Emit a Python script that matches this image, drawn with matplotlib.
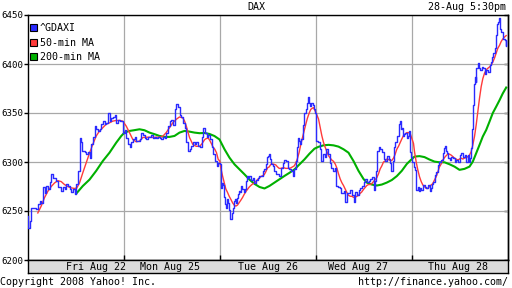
import matplotlib
matplotlib.use("Agg")
import matplotlib.pyplot as plt
from matplotlib.patches import Patch

# time axis: 0..480 units, one trading day = 96 units (Fri Aug 22 .. Thu Aug 28)
day_edges = [96, 192, 288, 384]
day_labels = ["Fri Aug 22", "Mon Aug 25", "Tue Aug 26", "Wed Aug 27", "Thu Aug 28"]
day_label_pos = [68, 142, 240, 331, 431]

y_ticks = [6200, 6250, 6300, 6350, 6400, 6450]

# ^GDAXI (intraday quotes)
gdaxi_t = [0, 0.7, 2, 3.7, 8.7, 10.3, 12, 13.7, 15.3, 17, 18.7, 20.3, 22, 23.7, 25.3, 27, 28.7, 30.3,
           32, 33.7, 35.3, 37, 38.7, 40.3, 42, 43.7, 45.3, 47, 48.7, 50.3, 52, 53.7, 54.7, 57, 58.7,
           60.3, 62, 63.7, 65.3, 67, 68.7, 70.3, 72, 73.7, 75.3, 77, 78.7, 80.3, 82, 83.7, 85.3, 87,
           88.7, 90.3, 92, 93.7, 95.3, 97, 98.7, 100.3, 102, 103.7, 105.3, 107, 108.7, 110.3, 112,
           113.7, 115.3, 117, 118.7, 120.3, 122, 123.7, 125.3, 127, 128.7, 130.3, 132, 133.7, 135.3,
           137, 138.7, 140.3, 142, 143.7, 145.3, 147, 148.7, 150.3, 152, 153.7, 155.3, 157, 158.7,
           160.3, 162, 163.7, 165.3, 167, 168.7, 170.3, 172, 174, 175.7, 177.3, 179, 180.7, 182.3,
           184, 185.7, 187.3, 189, 190.7, 192.3, 193, 194, 195, 196, 196.7, 197.7, 198.3, 199.3, 200,
           201, 202, 202.7, 204, 205, 206, 206.7, 207.7, 208.3, 209.3, 210, 211, 212, 213.3, 214.3,
           216, 217.3, 218.3, 219.3, 220.7, 221.7, 223.3, 225, 226.7, 228.3, 230, 231.7, 233.3, 235,
           236.7, 238.3, 239.3, 240.7, 241.7, 242.7, 243.3, 245, 246.7, 248.3, 250, 251.7, 253.3,
           255, 256.7, 258.3, 260, 261.7, 263.3, 265, 266.7, 268.3, 269.3, 270, 271, 272, 273.3,
           275, 276.7, 278.3, 279.3, 280, 281, 282, 283.3, 285, 286, 287.3, 288.7, 290.3, 292,
           293.3, 295.3, 297, 298.7, 300.3, 302, 303.7, 305.3, 307, 308.7, 310.3, 312, 313.3, 315.3,
           316.7, 317.7, 319.3, 321, 322.7, 324.3, 326, 327.7, 329.3, 331, 332.7, 334.3, 336, 337.7,
           339.3, 341, 342.7, 344.3, 346, 347.7, 348.7, 349.3, 351, 352.7, 354.3, 356, 357.7, 359.3,
           361, 362.7, 363.7, 365.3, 366.7, 367.7, 369.3, 371, 372, 373.3, 374.3, 375.3, 376.7,
           377.7, 379.3, 380.3, 381.3, 382, 382.7, 383.7, 384.7, 386, 387, 388, 388.7, 390.3, 391.3,
           392.7, 393.7, 395.3, 397, 398.7, 400.3, 402, 403, 404, 405.3, 407, 408.7, 410.3, 411.3,
           412.7, 413.7, 415.3, 416.3, 417, 418, 419.3, 420.3, 422, 423.7, 425.3, 427, 428.7, 430.3,
           432, 433.7, 435.3, 437, 438.7, 440.3, 441.3, 442.7, 443.7, 444.7, 445.3, 446, 447, 448,
           448.7, 450.3, 451.3, 452.7, 454, 455.3, 457, 458.7, 460.3, 462, 463, 464, 465.3, 467, 468,
           468.7, 469.3, 470.3, 471.3, 472, 473.7, 475.3, 477, 478, 478.7]
gdaxi_v = [6245, 6233, 6240, 6253, 6252, 6257, 6260, 6258, 6275, 6268, 6276, 6272, 6280, 6288, 6284,
           6284, 6281, 6274, 6275, 6270, 6275, 6272, 6278, 6276, 6272, 6269, 6272, 6267, 6278, 6291,
           6325, 6320, 6311, 6310, 6308, 6310, 6304, 6318, 6326, 6337, 6334, 6332, 6334, 6339, 6342,
           6339, 6340, 6350, 6342, 6345, 6346, 6348, 6340, 6343, 6342, 6342, 6330, 6333, 6325, 6318,
           6315, 6320, 6323, 6326, 6321, 6321, 6323, 6330, 6328, 6325, 6323, 6326, 6326, 6328, 6325,
           6326, 6325, 6326, 6325, 6323, 6326, 6325, 6330, 6337, 6342, 6343, 6338, 6354, 6359, 6356,
           6348, 6346, 6340, 6335, 6320, 6311, 6313, 6316, 6320, 6318, 6320, 6316, 6315, 6326, 6335,
           6330, 6326, 6328, 6323, 6315, 6308, 6301, 6296, 6299, 6298, 6273, 6279, 6277, 6272, 6264,
           6257, 6253, 6262, 6258, 6251, 6247, 6242, 6248, 6253, 6257, 6260, 6262, 6258, 6263, 6267,
           6270, 6269, 6276, 6272, 6269, 6272, 6281, 6286, 6284, 6286, 6282, 6284, 6279, 6282, 6284,
           6286, 6286, 6291, 6293, 6298, 6305, 6306, 6308, 6303, 6298, 6296, 6291, 6288, 6288, 6286,
           6294, 6299, 6302, 6301, 6294, 6293, 6291, 6286, 6293, 6301, 6315, 6325, 6321, 6318, 6323,
           6338, 6350, 6354, 6360, 6366, 6360, 6357, 6360, 6358, 6354, 6350, 6321, 6320, 6313, 6301,
           6308, 6305, 6313, 6308, 6299, 6294, 6291, 6294, 6276, 6274, 6273, 6268, 6268, 6270, 6259,
           6268, 6268, 6271, 6266, 6259, 6269, 6266, 6271, 6273, 6276, 6280, 6283, 6280, 6281, 6283,
           6285, 6271, 6281, 6291, 6311, 6315, 6313, 6310, 6303, 6301, 6306, 6303, 6299, 6291, 6301,
           6315, 6320, 6327, 6339, 6342, 6334, 6335, 6327, 6329, 6330, 6324, 6327, 6332, 6320, 6310,
           6305, 6300, 6295, 6292, 6277, 6271, 6275, 6270, 6273, 6271, 6277, 6275, 6273, 6277, 6270,
           6273, 6278, 6280, 6287, 6290, 6297, 6300, 6300, 6302, 6309, 6314, 6316, 6311, 6309, 6304,
           6302, 6305, 6304, 6300, 6302, 6300, 6307, 6309, 6305, 6307, 6300, 6307, 6300, 6304, 6314,
           6334, 6358, 6380, 6387, 6382, 6396, 6401, 6396, 6394, 6397, 6396, 6390, 6394, 6392, 6399,
           6402, 6407, 6411, 6416, 6423, 6430, 6441, 6443, 6447, 6436, 6433, 6426, 6424, 6418, 6423]

# 50-min MA
ma50_t = [10.3, 13.7, 17, 20.3, 23.7, 27, 30.3, 33.7, 37, 40.3, 43.7, 47, 49.3, 52, 55.3, 58.7, 62,
          65.3, 68.7, 72, 75.3, 78.7, 82, 85.3, 88.7, 92, 95.3, 98.7, 102, 105.3, 108.7, 112, 115.3,
          118.7, 122, 125.3, 128.7, 132, 135.3, 138.7, 142, 145.3, 148.7, 152, 155.3, 157, 158.7,
          162, 165.3, 168.7, 172, 174, 177.3, 179, 180.7, 182.3, 184, 185.7, 187.3, 189, 190.7,
          192.3, 193.3, 195, 196.7, 198.3, 200, 201.7, 203.3, 205, 206.7, 208.3, 210, 211.7, 213.3,
          215, 216.7, 218.3, 220, 221.7, 223.3, 225, 226.7, 228.3, 230, 231.7, 233.3, 235, 236.7,
          238.3, 240, 241.7, 243.3, 245, 246.7, 248.3, 250, 251.7, 253.3, 255, 256.7, 258.3, 260,
          261.7, 263.3, 265, 266.7, 268.3, 270, 271.7, 273.3, 275, 276.7, 278.3, 280, 281.7, 283.3,
          285, 286, 287.7, 291, 292.7, 294.3, 296, 297.7, 299.3, 301, 302.7, 304.3, 306, 307.7,
          309.3, 311, 312.7, 314.3, 316, 317.7, 319.3, 321, 322.7, 324.3, 326, 327.7, 329.3, 331,
          332.7, 334.3, 336, 337.7, 339.3, 341, 342.7, 344.3, 346, 347.7, 349.3, 351, 352.7, 354.3,
          356, 357.7, 359.3, 361, 362.7, 364.3, 366, 367.7, 369.3, 371, 372.7, 374.3, 376, 377.7,
          379.3, 381, 382.7, 384.3, 386, 387, 388.7, 390.3, 392, 393.7, 395.3, 397, 398.7, 400.3,
          402, 403.7, 405.3, 407, 408.7, 410.3, 412, 413.7, 415.3, 417, 418.7, 420.3, 422, 423.7,
          425.3, 427, 428.7, 430.3, 432, 433.7, 435.3, 437, 438.7, 440.3, 442, 443.7, 445.3, 447,
          448.7, 450.3, 452, 453.7, 455.3, 457, 458.7, 460.3, 462, 463.7, 465.3, 467, 468.7, 470.3,
          472, 473.7, 475.3, 477, 478.7]
ma50_v = [6248, 6255, 6263.6, 6270, 6275, 6278.6, 6281, 6280, 6277, 6275, 6273.6, 6273, 6273.6,
          6278.6, 6289, 6299, 6309, 6318, 6326.5, 6331.7, 6335, 6338.6, 6340, 6341.7, 6342.4, 6342.4,
          6341.7, 6336.7, 6330, 6323, 6320.6, 6321.3, 6325, 6325.3, 6325.3, 6325, 6325.3, 6325.3,
          6326.3, 6330, 6335, 6340, 6343.5, 6346, 6345, 6342, 6337, 6325, 6318, 6316, 6316, 6318,
          6323, 6324, 6324.4, 6322, 6318.5, 6315, 6313, 6309.5, 6302.7, 6301, 6294, 6286, 6279,
          6272.5, 6269, 6265, 6262, 6258.5, 6256, 6255, 6256, 6258.5, 6261, 6263.7, 6267, 6269.7,
          6272, 6274.4, 6276, 6277.5, 6278.5, 6280, 6282, 6283.5, 6285, 6286, 6287, 6290, 6294,
          6295, 6297.6, 6298, 6297.6, 6297, 6295, 6293.5, 6293.5, 6294, 6294, 6293.5, 6293.5,
          6293.5, 6294, 6295, 6296, 6299, 6303.7, 6310, 6318, 6325, 6332, 6338.6, 6345, 6350,
          6353.7, 6355, 6355.5, 6352, 6344, 6335, 6327, 6320, 6315, 6311, 6306.5, 6304, 6302,
          6300.7, 6298, 6294, 6288, 6282.7, 6279, 6276, 6272.5, 6269, 6266, 6265, 6265, 6264, 6264,
          6265, 6266, 6268, 6269.5, 6272, 6274, 6276, 6277, 6277, 6278, 6280, 6282, 6284, 6288,
          6293, 6296, 6300, 6301, 6303, 6302.5, 6301.5, 6301.5, 6304, 6308, 6313, 6316, 6320,
          6323.5, 6327, 6328.5, 6330, 6330, 6329, 6324, 6319, 6310.6, 6300, 6292, 6285, 6280,
          6276.6, 6275, 6273, 6273, 6275, 6276.6, 6278, 6281.7, 6285, 6290, 6295, 6298, 6302,
          6304.5, 6306.5, 6308, 6308, 6307, 6305.5, 6304, 6303, 6302, 6303, 6304, 6303, 6304,
          6304.5, 6305.5, 6307, 6310.6, 6317.4, 6326, 6338, 6351.4, 6365, 6377, 6385, 6390.5,
          6394, 6395.6, 6397, 6399, 6402, 6406, 6411, 6416, 6419, 6423, 6425.5, 6427.5, 6429]

# 200-min MA
ma200_t = [48.7, 55.3, 62, 68.7, 75.3, 82, 88.7, 93.7, 97, 102, 107, 112, 117, 122, 127, 132, 137,
           142, 147, 152, 157, 162, 167, 172, 177, 182, 187, 192, 197, 202, 207, 212, 217, 222, 227,
           232, 237, 242, 247, 252, 257, 262, 267, 272, 277, 282, 287, 291, 296, 301, 306, 311, 316,
           321, 326, 331, 336, 339.3, 344.3, 349.3, 354.3, 359.3, 364.3, 369.3, 374.3, 379.3, 384.3,
           387, 392, 397, 402, 407, 412, 417, 422, 427, 432, 437, 442, 445.3, 448.7, 452, 455.3,
           458.7, 462, 465.3, 468.7, 472, 475.3, 478.7]
ma200_v = [6267.7, 6275.5, 6282, 6291, 6301, 6309.5, 6319.7, 6326.5, 6330, 6331.7, 6332.5, 6333.4,
           6332.4, 6330, 6328.4, 6326.6, 6325.6, 6325.6, 6326.6, 6330, 6331.7, 6331, 6330, 6329.4,
           6329.6, 6328.6, 6326.5, 6323, 6313, 6304.4, 6297.6, 6292.5, 6287.4, 6282, 6277.7, 6274.5,
           6273, 6275.6, 6279, 6282.4, 6285.8, 6289, 6292.5, 6297.6, 6302.7, 6308.5, 6313.6, 6315.5,
           6317, 6317.5, 6317, 6315.7, 6313, 6309.5, 6301, 6291, 6282.7, 6279, 6277, 6276, 6277,
           6279, 6281.6, 6285.6, 6291, 6298, 6303, 6305.5, 6306, 6305, 6302.5, 6300.4, 6299.7,
           6299.7, 6297.7, 6295.3, 6292, 6293, 6295.3, 6300.4, 6309, 6317.4, 6326, 6332.7, 6341.2,
           6350, 6356.5, 6363, 6370, 6376]

BLUE = "#2a2aff"
RED = "#ff3a3a"
GREEN = "#00b000"
GRID = "#a8a8a8"
FONT = "DejaVu Sans Mono"
FS = 7.2

W, H = 512, 288
fig = plt.figure(figsize=(W / 100, H / 100), dpi=100)
fig.patch.set_facecolor("white")

# main plot area (pixels: x 28..507, y 15..260)
ax = fig.add_axes([27.5 / W, 28 / H, 480 / W, 245 / H])
ax.plot(ma200_t, ma200_v, color=GREEN, lw=1.5, zorder=3)
ax.plot(ma50_t, ma50_v, color=RED, lw=1.0, zorder=4)
ax.plot(gdaxi_t, gdaxi_v, color=BLUE, lw=1.0, drawstyle="steps-post", zorder=5)

ax.set_xlim(0, 480)
ax.set_ylim(6200, 6450)
ax.set_yticks(y_ticks)
ax.set_yticklabels([str(v) for v in y_ticks], fontfamily=FONT, fontsize=6.6)
ax.set_xticks(day_edges)
ax.set_xticklabels([])
ax.grid(True, color=GRID, lw=0.9)
ax.set_axisbelow(True)
ax.tick_params(axis="y", direction="out", length=3, width=1, pad=0, colors="black")
ax.tick_params(axis="x", direction="in", length=3.5, width=1, colors="black")
for s in ax.spines.values():
    s.set_linewidth(1)
    s.set_color("black")

sec = ax.secondary_yaxis("right")
sec.set_yticks(y_ticks)
sec.set_yticklabels([])
sec.tick_params(direction="in", length=3, width=1)
sec.spines["right"].set_linewidth(1)

handles = [Patch(facecolor=BLUE, edgecolor="black", lw=0.8, label="^GDAXI"),
           Patch(facecolor=RED, edgecolor="black", lw=0.8, label="50-min MA"),
           Patch(facecolor=GREEN, edgecolor="black", lw=0.8, label="200-min MA")]
ax.legend(handles=handles, loc="upper left", bbox_to_anchor=(0.0, 0.975), frameon=False,
          prop={"family": FONT, "size": FS}, handlelength=0.7, handleheight=0.7,
          handletextpad=0.3, labelspacing=0.45, borderpad=0.2, borderaxespad=0)

# date band under the plot
band = fig.add_axes([27.5 / W, 15 / H, 480 / W, 13 / H])
band.set_facecolor("#dcdcdc")
band.set_xlim(0, 480)
band.set_ylim(0, 1)
band.set_xticks([])
band.set_yticks([])
for s in band.spines.values():
    s.set_linewidth(1)
    s.set_color("black")
for lbl, pos in zip(day_labels, day_label_pos):
    band.text(pos, 0.45, lbl, ha="center", va="center", fontfamily=FONT, fontsize=FS)

fig.text(256 / W, 1 - 7 / H, "DAX", ha="center", va="center", fontfamily=FONT, fontsize=FS)
fig.text(506 / W, 1 - 7 / H, "28-Aug 5:30pm", ha="right", va="center", fontfamily=FONT, fontsize=FS)
fig.text(0, 1 - 282 / H, "Copyright 2008 Yahoo! Inc.", ha="left", va="center",
         fontfamily=FONT, fontsize=FS)
fig.text(508 / W, 1 - 282 / H, "http://finance.yahoo.com/", ha="right", va="center",
         fontfamily=FONT, fontsize=FS)

fig.savefig("out.png", dpi=100, facecolor="white")
